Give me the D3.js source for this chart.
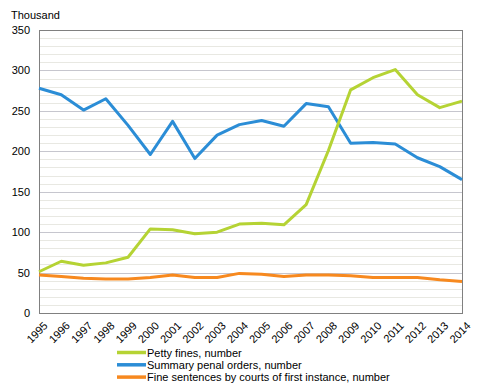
<!DOCTYPE html>
<html>
<head>
<meta charset="utf-8">
<script src="https://cdn.jsdelivr.net/npm/d3@7"></script>
<style>
  body { margin: 0; background: #fff; }
  svg text { font-family: Arial, "Liberation Sans", sans-serif; fill: #000; }
</style>
</head>
<body>
<div id="chart"></div>
<script>
var years = [1995, 1996, 1997, 1998, 1999, 2000, 2001, 2002, 2003, 2004,
             2005, 2006, 2007, 2008, 2009, 2010, 2011, 2012, 2013, 2014];

var pettyFines = [51, 64, 59, 62, 69, 104, 103, 98, 100, 110,
                  111, 109, 134, 201, 276, 291, 301, 270, 254, 262];
var summaryPenal = [278, 270, 251, 265, 232, 196, 237, 191, 220, 233,
                    238, 231, 259, 255, 210, 211, 209, 192, 181, 165];
var fineSentences = [47, 45, 43, 42, 42, 44, 47, 44, 44, 49,
                     48, 45, 47, 47, 46, 44, 44, 44, 41, 39];

var seriesNames = ["Petty fines, number", "Summary penal orders, number",
                   "Fine sentences by courts of first instance, number"];
var yTicks = [0, 50, 100, 150, 200, 250, 300, 350];

var colors = ["#b5d334", "#2b8dd6", "#f7891f"];

var W = 487, H = 385;
var margin = {top: 30, right: 25, bottom: 72, left: 39};

var svg = d3.select("#chart").append("svg")
    .attr("width", W)
    .attr("height", H);

var x = d3.scaleLinear()
    .domain([years[0], years[years.length - 1]])
    .range([margin.left, W - margin.right]);

var y = d3.scaleLinear()
    .domain([0, 350])
    .range([H - margin.bottom, margin.top]);

// grid lines, minor every 10, major every 50
var minor = d3.range(10, 350, 10).filter(function(v) { return v % 50 !== 0; });
svg.append("g").selectAll("line")
    .data(minor)
    .enter().append("line")
    .attr("x1", margin.left).attr("x2", W - margin.right)
    .attr("y1", function(d) { return Math.round(y(d)) + 0.5; })
    .attr("y2", function(d) { return Math.round(y(d)) + 0.5; })
    .attr("stroke", "#e8e8e2");

svg.append("g").selectAll("line")
    .data(yTicks.slice(1, -1))
    .enter().append("line")
    .attr("x1", margin.left).attr("x2", W - margin.right)
    .attr("y1", function(d) { return Math.round(y(d)) + 0.5; })
    .attr("y2", function(d) { return Math.round(y(d)) + 0.5; })
    .attr("stroke", "#c6c6ce");

// frame
svg.append("rect")
    .attr("x", margin.left + 0.5)
    .attr("y", Math.round(y(350)) + 0.5)
    .attr("width", W - margin.right - margin.left)
    .attr("height", Math.round(y(0)) - Math.round(y(350)))
    .attr("fill", "none")
    .attr("stroke", "#808080");

// y axis labels
svg.append("g").selectAll("text")
    .data(yTicks)
    .enter().append("text")
    .attr("x", 30)
    .attr("y", function(d) { return y(d) + 4; })
    .attr("text-anchor", "end")
    .style("font-size", "11px")
    .text(function(d) { return d; });

svg.append("text")
    .attr("x", 11)
    .attr("y", 19)
    .style("font-size", "11px")
    .text("Thousand");

// x axis labels
svg.append("g").selectAll("text")
    .data(years)
    .enter().append("text")
    .attr("transform", function(d) {
        return "translate(" + (x(d) + 4) + "," + (y(0) + 8) + ") rotate(-45)";
    })
    .attr("text-anchor", "end")
    .attr("dy", "0.7em")
    .style("font-size", "11px")
    .text(function(d) { return d; });

// lines
var line = d3.line()
    .x(function(d, i) { return x(years[i]); })
    .y(function(d) { return y(d); });

var allSeries = [pettyFines, summaryPenal, fineSentences];
var drawOrder = [2, 1, 0];
drawOrder.forEach(function(k) {
    svg.append("path")
        .datum(allSeries[k])
        .attr("d", line)
        .attr("fill", "none")
        .attr("stroke", colors[k])
        .attr("stroke-width", 3)
        .attr("stroke-linejoin", "round");
});

// legend
var legend = svg.append("g").selectAll("g")
    .data(seriesNames)
    .enter().append("g")
    .attr("transform", function(d, i) { return "translate(117," + (352.5 + i * 12.3) + ")"; });

legend.append("line")
    .attr("x1", 0).attr("x2", 29)
    .attr("y1", 0).attr("y2", 0)
    .attr("stroke", function(d, i) { return colors[i]; })
    .attr("stroke-width", 3.5);

legend.append("text")
    .attr("x", 30)
    .attr("y", 4)
    .style("font-size", "11px")
    .text(function(d) { return d; });
</script>
</body>
</html>
